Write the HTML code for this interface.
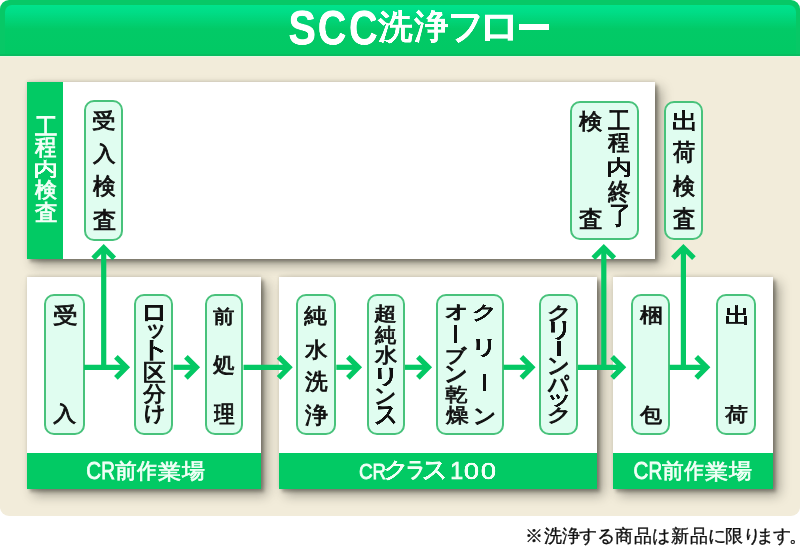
<!DOCTYPE html>
<html lang="ja"><head><meta charset="utf-8"><style>
html,body{margin:0;padding:0;}
body{width:800px;height:546px;position:relative;overflow:hidden;background:#fff;font-family:"Liberation Sans",sans-serif;}
.g{position:absolute;left:0;top:0;font-size:100px;line-height:100px;transform-origin:0 0;white-space:nowrap;will-change:transform;}
.box{position:absolute;box-sizing:border-box;border:2px solid #48c27b;background:#e0fdf0;border-radius:10px;}
.panel{position:absolute;background:#fff;box-shadow:0 -1px 3px rgba(30,28,20,0.12),3px 3px 3px rgba(30,28,20,0.3),6px 6px 11px rgba(30,28,20,0.38);}
.bar{position:absolute;background:#02ca64;}
</style></head><body>

<div style="position:absolute;left:0;top:50px;width:799.5px;height:465.5px;background:#f2ecda;border-radius:0 0 9px 9px"></div>
<div style="position:absolute;left:0;top:0;width:800px;height:55.6px;background:#07c866;border-radius:9px 9px 0 0"></div>
<div style="position:absolute;left:4.5px;top:4.5px;width:791px;height:51.1px;border-radius:7px 7px 0 0;background:linear-gradient(#00e38b 0px,#00dd87 7px,#02ca67 24px,#02c964 100%)"></div>
<div style="position:absolute;left:0;top:53.8px;width:800px;height:1.8px;background:#08bd60"></div><div style="position:absolute;left:0;top:55.6px;width:800px;height:1.2px;background:#e6f8e2"></div>
<span class="g" style="transform:translate(288.52px,3.39px) scale(0.4108,0.4810);color:#fff;font-weight:bold;-webkit-text-stroke:1.12px #fff;">S</span>
<span class="g" style="transform:translate(317.82px,3.39px) scale(0.3938,0.4810);color:#fff;font-weight:bold;-webkit-text-stroke:1.14px #fff;">C</span>
<span class="g" style="transform:translate(349.02px,3.39px) scale(0.3946,0.4810);color:#fff;font-weight:bold;-webkit-text-stroke:1.14px #fff;">C</span>
<span class="g" style="transform:translate(378.06px,9.59px) scale(0.3453,0.3375);color:#fff;font-weight:normal;-webkit-text-stroke:3.81px #fff;">洗</span>
<span class="g" style="transform:translate(414.32px,8.88px) scale(0.3421,0.3430);color:#fff;font-weight:normal;-webkit-text-stroke:3.79px #fff;">浄</span>
<span class="g" style="transform:translate(448.16px,7.75px) scale(0.3494,0.3605);color:#fff;font-weight:normal;-webkit-text-stroke:4.76px #fff;">フ</span>
<span class="g" style="transform:translate(478.06px,6.81px) scale(0.4177,0.3859);color:#fff;font-weight:normal;-webkit-text-stroke:4.21px #fff;">ロ</span>
<div style="position:absolute;left:518.8px;top:24.3px;width:30.200000000000045px;height:5.5px;background:#fff"></div>
<div class="panel" style="left:27px;top:82px;width:628.4px;height:176.5px"></div>
<div class="bar" style="left:27px;top:82px;width:36px;height:176.5px"></div>
<span class="g" style="transform:translate(34.76px,114.71px) scale(0.2215,0.2367);color:#f2fff7;font-weight:normal;-webkit-text-stroke:3.93px #f2fff7;">工</span>
<span class="g" style="transform:translate(34.99px,135.20px) scale(0.2146,0.2302);color:#f2fff7;font-weight:normal;-webkit-text-stroke:4.05px #f2fff7;">程</span>
<span class="g" style="transform:translate(33.19px,159.43px) scale(0.2512,0.1895);color:#f2fff7;font-weight:normal;-webkit-text-stroke:4.08px #f2fff7;">内</span>
<span class="g" style="transform:translate(34.98px,179.68px) scale(0.2168,0.2074);color:#f2fff7;font-weight:normal;-webkit-text-stroke:4.24px #f2fff7;">検</span>
<span class="g" style="transform:translate(34.75px,201.65px) scale(0.2239,0.2165);color:#f2fff7;font-weight:normal;-webkit-text-stroke:4.09px #f2fff7;">査</span>
<div class="panel" style="left:27px;top:276.6px;width:233.8px;height:212.0px"></div>
<div class="panel" style="left:279px;top:276.6px;width:317.5px;height:212.0px"></div>
<div class="panel" style="left:613px;top:276.6px;width:160.20000000000005px;height:212.0px"></div>
<div class="bar" style="left:27px;top:453px;width:233.8px;height:35.6px"></div>
<div class="bar" style="left:279px;top:453px;width:317.5px;height:35.6px"></div>
<div class="bar" style="left:613px;top:453px;width:160.2px;height:35.6px"></div>
<div class="box" style="left:83.8px;top:100.3px;width:39.2px;height:140.3px"></div>
<span class="g" style="transform:translate(92.04px,109.88px) scale(0.2393,0.2105);color:#111;font-weight:normal;-webkit-text-stroke:3.78px #111;">受</span>
<span class="g" style="transform:translate(92.78px,143.39px) scale(0.2242,0.2061);color:#111;font-weight:normal;-webkit-text-stroke:3.95px #111;">入</span>
<span class="g" style="transform:translate(92.78px,174.92px) scale(0.2242,0.2253);color:#111;font-weight:normal;-webkit-text-stroke:3.78px #111;">検</span>
<span class="g" style="transform:translate(92.54px,208.32px) scale(0.2315,0.2275);color:#111;font-weight:normal;-webkit-text-stroke:3.70px #111;">査</span>
<div class="box" style="left:570px;top:100.5px;width:68.79999999999995px;height:139.5px"></div>
<span class="g" style="transform:translate(608.05px,108.36px) scale(0.2258,0.2430);color:#111;font-weight:normal;-webkit-text-stroke:3.63px #111;">工</span>
<span class="g" style="transform:translate(608.28px,131.06px) scale(0.2188,0.2244);color:#111;font-weight:normal;-webkit-text-stroke:3.84px #111;">程</span>
<span class="g" style="transform:translate(606.45px,157.09px) scale(0.2561,0.2032);color:#111;font-weight:normal;-webkit-text-stroke:3.70px #111;">内</span>
<span class="g" style="transform:translate(608.50px,179.62px) scale(0.2211,0.2370);color:#111;font-weight:normal;-webkit-text-stroke:3.71px #111;">終</span>
<span class="g" style="transform:translate(609.02px,201.86px) scale(0.2197,0.2619);color:#111;font-weight:normal;-webkit-text-stroke:3.53px #111;">了</span>
<span class="g" style="transform:translate(578.77px,110.85px) scale(0.2295,0.2158);color:#111;font-weight:normal;-webkit-text-stroke:3.82px #111;">検</span>
<span class="g" style="transform:translate(578.53px,207.01px) scale(0.2370,0.2308);color:#111;font-weight:normal;-webkit-text-stroke:3.63px #111;">査</span>
<div class="box" style="left:664px;top:100.5px;width:39.200000000000045px;height:139.5px"></div>
<span class="g" style="transform:translate(671.71px,109.62px) scale(0.2654,0.2253);color:#111;font-weight:normal;-webkit-text-stroke:3.46px #111;">出</span>
<span class="g" style="transform:translate(672.86px,140.55px) scale(0.2202,0.2271);color:#111;font-weight:normal;-webkit-text-stroke:3.80px #111;">荷</span>
<span class="g" style="transform:translate(673.08px,174.92px) scale(0.2179,0.2253);color:#111;font-weight:normal;-webkit-text-stroke:3.84px #111;">検</span>
<span class="g" style="transform:translate(672.85px,206.98px) scale(0.2250,0.2396);color:#111;font-weight:normal;-webkit-text-stroke:3.66px #111;">査</span>
<div class="box" style="left:44px;top:294.2px;width:40.5px;height:141.2px"></div>
<span class="g" style="transform:translate(52.71px,304.56px) scale(0.2472,0.2179);color:#111;font-weight:normal;-webkit-text-stroke:3.66px #111;">受</span>
<span class="g" style="transform:translate(53.47px,403.79px) scale(0.2316,0.2081);color:#111;font-weight:normal;-webkit-text-stroke:3.87px #111;">入</span>
<div class="box" style="left:134.2px;top:294.2px;width:39.30000000000001px;height:141.2px"></div>
<span class="g" style="transform:translate(140.58px,300.11px) scale(0.2694,0.2406);color:#111;font-weight:normal;-webkit-text-stroke:4.33px #111;">ロ</span>
<span class="g" style="transform:translate(145.19px,317.14px) scale(0.2191,0.2246);color:#111;font-weight:normal;-webkit-text-stroke:4.98px #111;">ッ</span>
<span class="g" style="transform:translate(138.47px,337.19px) scale(0.3183,0.2353);color:#111;font-weight:normal;-webkit-text-stroke:3.99px #111;">ト</span>
<span class="g" style="transform:translate(142.63px,360.33px) scale(0.2278,0.2386);color:#111;font-weight:normal;-webkit-text-stroke:3.65px #111;">区</span>
<span class="g" style="transform:translate(143.07px,382.85px) scale(0.2295,0.2117);color:#111;font-weight:normal;-webkit-text-stroke:3.85px #111;">分</span>
<span class="g" style="transform:translate(143.81px,403.38px) scale(0.2131,0.2011);color:#111;font-weight:normal;-webkit-text-stroke:5.34px #111;">け</span>
<div class="box" style="left:204.7px;top:294.2px;width:38.80000000000001px;height:141.2px"></div>
<span class="g" style="transform:translate(213.26px,306.43px) scale(0.2191,0.1936);color:#111;font-weight:normal;-webkit-text-stroke:4.12px #111;">前</span>
<span class="g" style="transform:translate(213.28px,354.11px) scale(0.2188,0.2132);color:#111;font-weight:normal;-webkit-text-stroke:3.94px #111;">処</span>
<span class="g" style="transform:translate(214.00px,402.85px) scale(0.2083,0.2303);color:#111;font-weight:normal;-webkit-text-stroke:3.88px #111;">理</span>
<div class="box" style="left:296.3px;top:294.2px;width:40.0px;height:141.2px"></div>
<span class="g" style="transform:translate(304.47px,304.54px) scale(0.2340,0.2151);color:#111;font-weight:normal;-webkit-text-stroke:3.79px #111;">純</span>
<span class="g" style="transform:translate(305.27px,339.37px) scale(0.2263,0.2105);color:#111;font-weight:normal;-webkit-text-stroke:3.89px #111;">水</span>
<span class="g" style="transform:translate(304.54px,370.23px) scale(0.2292,0.2229);color:#111;font-weight:normal;-webkit-text-stroke:3.76px #111;">洗</span>
<span class="g" style="transform:translate(304.54px,403.15px) scale(0.2316,0.2301);color:#111;font-weight:normal;-webkit-text-stroke:3.68px #111;">浄</span>
<div class="box" style="left:366.6px;top:294.2px;width:38.39999999999998px;height:141.2px"></div>
<span class="g" style="transform:translate(374.20px,304.03px) scale(0.2322,0.1937);color:#111;font-weight:normal;-webkit-text-stroke:3.99px #111;">超</span>
<span class="g" style="transform:translate(374.68px,324.18px) scale(0.2155,0.2043);color:#111;font-weight:normal;-webkit-text-stroke:4.05px #111;">純</span>
<span class="g" style="transform:translate(374.68px,345.81px) scale(0.2200,0.1958);color:#111;font-weight:normal;-webkit-text-stroke:4.09px #111;">水</span>
<span class="g" style="transform:translate(371.91px,365.39px) scale(0.2793,0.2065);color:#111;font-weight:normal;-webkit-text-stroke:4.55px #111;">リ</span>
<span class="g" style="transform:translate(374.17px,385.05px) scale(0.2177,0.2081);color:#111;font-weight:normal;-webkit-text-stroke:5.19px #111;">ン</span>
<span class="g" style="transform:translate(374.43px,401.20px) scale(0.2342,0.2544);color:#111;font-weight:normal;-webkit-text-stroke:4.52px #111;">ス</span>
<div class="box" style="left:435.5px;top:294.2px;width:68.0px;height:141.2px"></div>
<span class="g" style="transform:translate(471.85px,302.77px) scale(0.2500,0.1860);color:#111;font-weight:normal;-webkit-text-stroke:5.07px #111;">ク</span>
<span class="g" style="transform:translate(470.41px,336.65px) scale(0.2753,0.2035);color:#111;font-weight:normal;-webkit-text-stroke:4.62px #111;">リ</span>
<div style="position:absolute;left:483px;top:373.5px;width:3.1999999999999886px;height:17.30000000000001px;background:#111"></div>
<span class="g" style="transform:translate(473.07px,404.95px) scale(0.2253,0.2081);color:#111;font-weight:normal;-webkit-text-stroke:5.10px #111;">ン</span>
<span class="g" style="transform:translate(445.04px,302.47px) scale(0.2268,0.1878);color:#111;font-weight:normal;-webkit-text-stroke:5.33px #111;">オ</span>
<div style="position:absolute;left:454.4px;top:325px;width:2.900000000000034px;height:18px;background:#111"></div>
<span class="g" style="transform:translate(445.06px,346.02px) scale(0.2151,0.1845);color:#111;font-weight:normal;-webkit-text-stroke:5.53px #111;">ブ</span>
<span class="g" style="transform:translate(443.94px,362.01px) scale(0.2354,0.2216);color:#111;font-weight:normal;-webkit-text-stroke:4.84px #111;">ン</span>
<span class="g" style="transform:translate(445.12px,384.65px) scale(0.2280,0.1891);color:#111;font-weight:normal;-webkit-text-stroke:4.08px #111;">乾</span>
<span class="g" style="transform:translate(445.57px,405.02px) scale(0.2255,0.1967);color:#111;font-weight:normal;-webkit-text-stroke:4.03px #111;">燥</span>
<div class="box" style="left:539.4px;top:294.2px;width:38.5px;height:141.2px"></div>
<span class="g" style="transform:translate(546.69px,303.10px) scale(0.2459,0.1818);color:#111;font-weight:normal;-webkit-text-stroke:5.17px #111;">ク</span>
<span class="g" style="transform:translate(545.07px,319.05px) scale(0.2801,0.2071);color:#111;font-weight:normal;-webkit-text-stroke:4.54px #111;">リ</span>
<div style="position:absolute;left:557px;top:341px;width:3.6000000000000227px;height:15px;background:#111"></div>
<span class="g" style="transform:translate(546.77px,353.69px) scale(0.2253,0.2230);color:#111;font-weight:normal;-webkit-text-stroke:4.93px #111;">ン</span>
<span class="g" style="transform:translate(548.30px,372.87px) scale(0.2040,0.2278);color:#111;font-weight:normal;-webkit-text-stroke:5.12px #111;">パ</span>
<span class="g" style="transform:translate(546.38px,388.09px) scale(0.2515,0.1918);color:#111;font-weight:normal;-webkit-text-stroke:4.99px #111;">ッ</span>
<span class="g" style="transform:translate(547.17px,406.17px) scale(0.2431,0.1797);color:#111;font-weight:normal;-webkit-text-stroke:5.23px #111;">ク</span>
<div class="box" style="left:630.5px;top:294.2px;width:39.0px;height:141.2px"></div>
<span class="g" style="transform:translate(639.77px,305.20px) scale(0.2308,0.2011);color:#111;font-weight:normal;-webkit-text-stroke:3.94px #111;">梱</span>
<span class="g" style="transform:translate(639.78px,404.81px) scale(0.2165,0.1967);color:#111;font-weight:normal;-webkit-text-stroke:4.11px #111;">包</span>
<div class="box" style="left:715.8px;top:294.2px;width:40.0px;height:141.2px"></div>
<span class="g" style="transform:translate(724.75px,305.18px) scale(0.2590,0.2077);color:#111;font-weight:normal;-webkit-text-stroke:3.64px #111;">出</span>
<span class="g" style="transform:translate(725.04px,405.22px) scale(0.2287,0.1885);color:#111;font-weight:normal;-webkit-text-stroke:4.07px #111;">荷</span>
<span class="g" style="transform:translate(86.27px,459.54px) scale(0.2063,0.2310);color:#f2fff7;font-weight:normal;-webkit-text-stroke:3.43px #f2fff7;">C</span>
<span class="g" style="transform:translate(101.28px,459.49px) scale(0.1898,0.2343);color:#f2fff7;font-weight:normal;-webkit-text-stroke:3.54px #f2fff7;">R</span>
<span class="g" style="transform:translate(114.57px,460.67px) scale(0.2160,0.2074);color:#f2fff7;font-weight:normal;-webkit-text-stroke:3.54px #f2fff7;">前</span>
<span class="g" style="transform:translate(137.00px,460.23px) scale(0.2000,0.2120);color:#f2fff7;font-weight:normal;-webkit-text-stroke:3.64px #f2fff7;">作</span>
<span class="g" style="transform:translate(157.54px,460.88px) scale(0.2280,0.2074);color:#f2fff7;font-weight:normal;-webkit-text-stroke:3.45px #f2fff7;">業</span>
<span class="g" style="transform:translate(181.60px,460.46px) scale(0.2268,0.2074);color:#f2fff7;font-weight:normal;-webkit-text-stroke:3.45px #f2fff7;">場</span>
<span class="g" style="transform:translate(633.47px,459.54px) scale(0.2063,0.2310);color:#f2fff7;font-weight:normal;-webkit-text-stroke:3.43px #f2fff7;">C</span>
<span class="g" style="transform:translate(648.48px,459.49px) scale(0.1898,0.2343);color:#f2fff7;font-weight:normal;-webkit-text-stroke:3.54px #f2fff7;">R</span>
<span class="g" style="transform:translate(661.77px,460.67px) scale(0.2160,0.2074);color:#f2fff7;font-weight:normal;-webkit-text-stroke:3.54px #f2fff7;">前</span>
<span class="g" style="transform:translate(684.20px,460.23px) scale(0.2000,0.2120);color:#f2fff7;font-weight:normal;-webkit-text-stroke:3.64px #f2fff7;">作</span>
<span class="g" style="transform:translate(704.74px,460.88px) scale(0.2280,0.2074);color:#f2fff7;font-weight:normal;-webkit-text-stroke:3.45px #f2fff7;">業</span>
<span class="g" style="transform:translate(728.80px,460.46px) scale(0.2268,0.2074);color:#f2fff7;font-weight:normal;-webkit-text-stroke:3.45px #f2fff7;">場</span>
<span class="g" style="transform:translate(359.05px,459.62px) scale(0.1905,0.2254);color:#f2fff7;font-weight:normal;-webkit-text-stroke:3.61px #f2fff7;">C</span>
<span class="g" style="transform:translate(372.51px,459.57px) scale(0.1864,0.2286);color:#f2fff7;font-weight:normal;-webkit-text-stroke:3.61px #f2fff7;">R</span>
<span class="g" style="transform:translate(383.25px,458.35px) scale(0.2500,0.2209);color:#f2fff7;font-weight:normal;-webkit-text-stroke:4.14px #f2fff7;">ク</span>
<span class="g" style="transform:translate(405.89px,458.43px) scale(0.1918,0.2195);color:#f2fff7;font-weight:normal;-webkit-text-stroke:4.74px #f2fff7;">ラ</span>
<span class="g" style="transform:translate(421.97px,456.34px) scale(0.2532,0.2574);color:#f2fff7;font-weight:normal;-webkit-text-stroke:3.82px #f2fff7;">ス</span>
<span class="g" style="transform:translate(450.14px,459.29px) scale(0.2326,0.2319);color:#f2fff7;font-weight:normal;-webkit-text-stroke:3.23px #f2fff7;">1</span>
<span class="g" style="transform:translate(463.92px,459.62px) scale(0.2708,0.2254);color:#f2fff7;font-weight:normal;-webkit-text-stroke:3.02px #f2fff7;">0</span>
<span class="g" style="transform:translate(480.92px,459.62px) scale(0.2708,0.2254);color:#f2fff7;font-weight:normal;-webkit-text-stroke:3.02px #f2fff7;">0</span>
<svg style="position:absolute;left:0;top:0" width="800" height="546" viewBox="0 0 800 546"><line x1="84" y1="367.3" x2="127" y2="367.3" stroke="#04c864" stroke-width="5.2"/><polyline points="115.9,356.8 126.4,367.3 115.9,377.8" fill="none" stroke="#04c864" stroke-width="5.2" stroke-miterlimit="10"/><line x1="173.5" y1="367.3" x2="197" y2="367.3" stroke="#04c864" stroke-width="5.2"/><polyline points="185.9,356.8 196.4,367.3 185.9,377.8" fill="none" stroke="#04c864" stroke-width="5.2" stroke-miterlimit="10"/><line x1="243.5" y1="367.3" x2="289.7" y2="367.3" stroke="#04c864" stroke-width="5.2"/><polyline points="278.59999999999997,356.8 289.09999999999997,367.3 278.59999999999997,377.8" fill="none" stroke="#04c864" stroke-width="5.2" stroke-miterlimit="10"/><line x1="336.3" y1="367.3" x2="359" y2="367.3" stroke="#04c864" stroke-width="5.2"/><polyline points="347.9,356.8 358.4,367.3 347.9,377.8" fill="none" stroke="#04c864" stroke-width="5.2" stroke-miterlimit="10"/><line x1="405" y1="367.3" x2="429" y2="367.3" stroke="#04c864" stroke-width="5.2"/><polyline points="417.9,356.8 428.4,367.3 417.9,377.8" fill="none" stroke="#04c864" stroke-width="5.2" stroke-miterlimit="10"/><line x1="503.5" y1="367.3" x2="532.5" y2="367.3" stroke="#04c864" stroke-width="5.2"/><polyline points="521.4,356.8 531.9,367.3 521.4,377.8" fill="none" stroke="#04c864" stroke-width="5.2" stroke-miterlimit="10"/><line x1="577.9" y1="367.3" x2="623.2" y2="367.3" stroke="#04c864" stroke-width="5.2"/><polyline points="612.1,356.8 622.6,367.3 612.1,377.8" fill="none" stroke="#04c864" stroke-width="5.2" stroke-miterlimit="10"/><line x1="669.5" y1="367.3" x2="707.3" y2="367.3" stroke="#04c864" stroke-width="5.2"/><polyline points="696.1999999999999,356.8 706.6999999999999,367.3 696.1999999999999,377.8" fill="none" stroke="#04c864" stroke-width="5.2" stroke-miterlimit="10"/><line x1="103.7" y1="369.90000000000003" x2="103.7" y2="247.2" stroke="#04c864" stroke-width="5.2"/><polyline points="93.2,258.29999999999995 103.7,247.79999999999998 114.2,258.29999999999995" fill="none" stroke="#04c864" stroke-width="5.2" stroke-miterlimit="10"/><line x1="603.8" y1="369.90000000000003" x2="603.8" y2="247" stroke="#04c864" stroke-width="5.2"/><polyline points="593.3,258.1 603.8,247.6 614.3,258.1" fill="none" stroke="#04c864" stroke-width="5.2" stroke-miterlimit="10"/><line x1="683.4" y1="369.90000000000003" x2="683.4" y2="247" stroke="#04c864" stroke-width="5.2"/><polyline points="672.9,258.1 683.4,247.6 693.9,258.1" fill="none" stroke="#04c864" stroke-width="5.2" stroke-miterlimit="10"/></svg>
<span style="position:absolute;left:525.23px;top:527.3px;font-size:18.3px;line-height:18.3px;color:#111;white-space:nowrap;-webkit-text-stroke:0.35px #111">※</span>
<span style="position:absolute;left:543.85px;top:527.3px;font-size:18.3px;line-height:18.3px;color:#111;white-space:nowrap;-webkit-text-stroke:0.35px #111">洗</span>
<span style="position:absolute;left:561.82px;top:527.3px;font-size:18.3px;line-height:18.3px;color:#111;white-space:nowrap;-webkit-text-stroke:0.35px #111">浄</span>
<span style="position:absolute;left:579.43px;top:527.3px;font-size:18.3px;line-height:18.3px;color:#111;white-space:nowrap;-webkit-text-stroke:0.35px #111">す</span>
<span style="position:absolute;left:597.28px;top:527.3px;font-size:18.3px;line-height:18.3px;color:#111;white-space:nowrap;-webkit-text-stroke:0.35px #111">る</span>
<span style="position:absolute;left:615.41px;top:527.3px;font-size:18.3px;line-height:18.3px;color:#111;white-space:nowrap;-webkit-text-stroke:0.35px #111">商</span>
<span style="position:absolute;left:633.86px;top:527.3px;font-size:18.3px;line-height:18.3px;color:#111;white-space:nowrap;-webkit-text-stroke:0.35px #111">品</span>
<span style="position:absolute;left:652.19px;top:527.3px;font-size:18.3px;line-height:18.3px;color:#111;white-space:nowrap;-webkit-text-stroke:0.35px #111">は</span>
<span style="position:absolute;left:671.03px;top:527.3px;font-size:18.3px;line-height:18.3px;color:#111;white-space:nowrap;-webkit-text-stroke:0.35px #111">新</span>
<span style="position:absolute;left:689.53px;top:527.3px;font-size:18.3px;line-height:18.3px;color:#111;white-space:nowrap;-webkit-text-stroke:0.35px #111">品</span>
<span style="position:absolute;left:707.63px;top:527.3px;font-size:18.3px;line-height:18.3px;color:#111;white-space:nowrap;-webkit-text-stroke:0.35px #111">に</span>
<span style="position:absolute;left:725.37px;top:527.3px;font-size:18.3px;line-height:18.3px;color:#111;white-space:nowrap;-webkit-text-stroke:0.35px #111">限</span>
<span style="position:absolute;left:743.00px;top:527.3px;font-size:18.3px;line-height:18.3px;color:#111;white-space:nowrap;-webkit-text-stroke:0.35px #111">り</span>
<span style="position:absolute;left:756.03px;top:527.3px;font-size:18.3px;line-height:18.3px;color:#111;white-space:nowrap;-webkit-text-stroke:0.35px #111">ま</span>
<span style="position:absolute;left:772.56px;top:527.3px;font-size:18.3px;line-height:18.3px;color:#111;white-space:nowrap;-webkit-text-stroke:0.35px #111">す</span>
<span style="position:absolute;left:789.31px;top:527.3px;font-size:18.3px;line-height:18.3px;color:#111;white-space:nowrap;-webkit-text-stroke:0.35px #111">。</span>
</body></html>
